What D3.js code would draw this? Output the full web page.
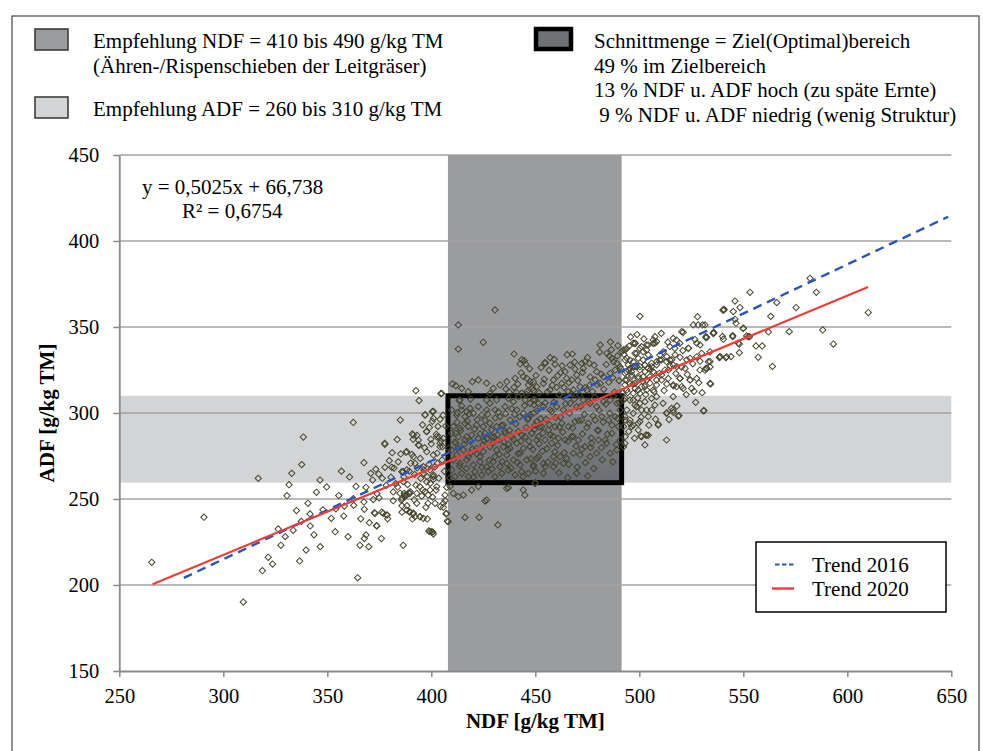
<!DOCTYPE html>
<html>
<head>
<meta charset="utf-8">
<script src="https://cdn.jsdelivr.net/npm/d3@7"></script>
<style>
  html, body { margin: 0; padding: 0; background: #fff; }
  svg { display: block; }
</style>
</head>
<body>
<svg id="chart" width="983" height="751"></svg>
<script>
// NDF / ADF samples, g/kg TM, as [NDF, ADF]
const samples = [
  [265.6,213.2],[290.7,239.4],[309.6,190.1],[316.8,262],[318.8,208.3],[321.6,216.1],[323.7,212.2],[327.7,223.1],
  [329.8,228.1],[330.6,251.9],[331.6,258.3],[332.9,264.9],[336.7,214],[337.5,237],[337.7,270],[338.5,286],
  [339.8,220.3],[340.7,247.5],[341.7,241.3],[341.8,234.3],[343.6,229.2],[346.5,261],[346.6,222.3],[349.7,257],
  [353.8,231],[355.5,252],[357.9,240.1],[360,228.1],[362.5,250.2],[362.7,246.3],[362.5,294.5],[364.6,204.2],
  [365.7,223.1],[367.6,271.1],[367.6,248.3],[367.8,244],[367.8,227],[368.6,256.8],[368.6,229.1],[369.9,222.3],
  [370.9,264.9],[371.8,261],[372.6,242],[373.3,267.3],[373.8,234.3],[373.9,253.1],[374.7,264.5],[376,227],
  [376.2,242.3],[377.7,281.8],[377.7,268.4],[378.8,240.7],[379,238.5],[379.8,272.3],[381,268.4],[381.7,254.1],
  [381.7,249],[382.1,268],[383.8,257],[385.8,265.9],[385.9,250.4],[385.9,242.3],[385.9,246.1],[386.5,223.1],
  [387,253.3],[387.8,277.2],[388.2,252.3],[388.3,246.1],[389.1,253.3],[389.6,242.3],[390.1,270.8],[390.9,238.4],
  [391.3,241.5],[392,264.3],[392.6,258],[393,253.3],[393,247.5],[393.8,281.4],[394.6,239.7],[394.9,262],
  [395.9,255.2],[396.2,264.9],[397.8,259.9],[398.1,238.4],[398.4,247.5],[398.8,231.4],[399.4,255.2],[400.7,230.8],
  [401,263],[401.8,247.5],[402.3,255.2],[402.9,270.8],[404.2,282.4],[405.8,247.5],[406.6,252.3],[407.1,241.3],
  [407.7,237.2],
  [392.6,313],[404.6,311.2],[410.1,316.9],[411.8,315.9],[394.1,307.2],[413.4,307.2],[397,299],[401,301],
  [404.2,296.3],[385.1,295.9],[400.5,295.2],[397.7,289.3],[390.9,287.8],[393.1,287],[402.4,287.6],[403.7,286],
  [391.3,284.7],[404.6,283.9],[377.6,282.4],[394.1,281.2],[400,282],[405.4,280.4],[416.2,294],[414.6,304.1],
  [417,300.8],[412.5,300.2],[411.7,288.2],[411.8,282.4],[417,286.2],
  [386.5,260.1],[396.4,266.9],[398,263],[399.5,259.1],[402.6,257.2],[401,261.4],[394.5,257.2],[397,254.3],
  [398.5,252.3],[387.3,252.3],[385.7,249.4],[389.7,253.3],[373,241.7],[376.9,241.7],[378.5,240.7],[391.3,241.7],
  [389.7,242.6],[394.5,239.7],[373.7,234.5],[399.3,231],[401,229.6],[407.3,241.7],[408.1,236.8],
  [400.5,300.8],[401,296.9],[397,298.8],[391.4,287.2],[393.8,284.3],[397.8,289.1],[402.6,286.2],[405.8,285.3],
  [388.2,277.5],[391.4,274.6],[397.8,277.5],[401,275.6],[404.2,280.4],[386.5,265.9],[388.2,266.9],[392.2,270.7],
  [396.2,268.8],[399.4,266.9],[401,264],[385,253.3],[387.4,251.4],[389.8,254.3],[391.4,241.7],[392.2,239.7],
  [400.2,231],[396.2,238.8],[388.2,243.6],
  [380.6,262.7],[382.9,258.9],[384.1,271.6],[385.3,276.2],[386.8,262.8],[388.6,258.4],[389.4,266.2],[390.7,275.9],
  [391.8,249.6],[393.2,268.1],[394.7,273.6],[395.4,251.7],[396.8,279.8],[397.4,245.2],[398.9,270.2],[399.8,284.7],
  [400.6,251.1],[401.7,268.7],[402.8,276.6],[403.6,262.1],[404.4,245.6],[405.2,272.7],[406.3,266.1],[407.4,256.8],
  [408.3,279.6],[408.9,262.3],[406.9,292.4],[405.7,298.7],[403.2,292.2],[399.1,291.6],[395.8,293.1],[383.6,284.6],
  [381.2,276.9],[378.3,257.9],[376.4,262.1],[374.9,250.6],[372.1,249.7],[370.2,236.2],[366.1,238.5],[363.8,257.3],
  [360.7,262.8],[358.2,245.9],[356.8,266.2],[354.1,244.3],[351.9,238.8],[347.9,243.7],[344.8,253.9],[335.2,243.3],
  [333.6,231.8],[326.4,232.6],
  [430.6,359.9],[413,351.2],[425,341.1],[413,337.2],[439.8,334.3],[444.7,330.4],[445.4,328.4],[442.7,328.5],
  [443.5,331],[419.7,318.2],[435.8,314],[439.8,314.9],[447.5,318.2],[444.3,321.1],[446.7,316.3],[405,311.4],
  [437.5,312.1],[441,311.9],[443.5,311.5],[446,312.5],[449.1,313.1],[418.9,308.1],[413.8,307.6],[426.6,307.6],
  [422.6,319.2],[426.6,317.3],[429.8,314.3],[433,316.3],[436.3,318.2],[440.3,320.2],[445.9,320.2],[428.2,311.4],
  [417.8,312.4],[414.6,314.3],
  [409,257.2],[410.6,253.3],[413,251.4],[415.4,252.3],[419.4,255.2],[422.6,257.2],[426.6,249.4],[436.2,256.2],
  [444.2,255.2],[445,252.3],[449.9,259.1],[416.2,239.3],[423,239.3],[432,234.9],[425.8,248.8],[437.1,256.6],
  [406.6,249.1],[405.8,245.2],
  [409.8,301.7],[412.2,298.8],[414.6,301.7],[416.2,297.9],[418.6,302.7],[420.2,299.8],[422.6,303.7],[424.2,298.8],
  [426.6,301.7],[428.2,305.6],[431.4,307.6],[430.6,301.7],[433,297.9],[435.5,303.7],[437.1,308.5],[439.5,306.6],
  [441.9,309.5],[445.1,307.6],[447.5,305.6],[449.9,307.6],[441.1,301.7],[444.3,299.8],[446.7,296.9],[449.1,299.8],
  [450.7,295],[437.9,295.9],[434.6,293],[431.4,292.1],[428.2,294],[425,292.1],[421.8,293],[417.8,292.1],
  [413.8,291.1],[410.6,292.1],[409.8,288.2],[413,286.2],[416.2,284.3],[419.4,287.2],[422.6,285.3],[425.8,288.2],
  [429,286.2],[432.2,284.3],[435.5,288.2],[438.7,286.2],[441.9,289.2],[445.1,286.2],[448.3,288.2],[450.7,284.3],
  [447.5,280.4],[444.3,279.5],[441.1,282.4],[437.9,279.5],[434.6,280.4],[431.4,278.5],[428.2,280.4],[425,277.5],
  [421.8,279.5],[418.6,276.6],[415.4,278.5],[412.2,275.6],[409.8,278.5],[410.6,272.7],[413.8,270.7],[417,272.7],
  [420.2,269.8],[423.4,271.7],[426.6,268.8],[429.8,271.7],[433,268.8],[436.3,270.7],[439.5,272.7],[442.7,269.8],
  [445.9,272.7],[449.1,269.8],[451.5,274.6],[446.7,264.9],[443.5,265.9],[440.3,264],[437.1,266.9],[433.9,264.9],
  [430.6,263],[427.4,265.9],[424.2,264],[421,265.9],[417.8,263],[414.6,264.9],[411.4,263],[409.8,266.9],
  [442.7,276.6],[436.3,275.6],[430.6,274.6],[423.4,274.6],[417.8,274.6],
  [411.3,283.1],[412.9,279.6],[414.1,289.7],[415.8,281.9],[417.3,295.2],[418.9,283.5],[419.7,279.1],[420.8,290.6],
  [421.9,276.2],[423.5,287.9],[424.8,281.4],[425.9,295.8],[426.7,284.9],[427.8,272.5],[428.9,290.2],[429.6,282.6],
  [430.8,297.1],[431.9,287.4],[432.7,275.9],[433.8,292.8],[434.9,283.2],[435.7,299.6],[436.8,278.8],[437.6,289.9],
  [438.7,302.4],[439.5,284.8],[440.6,293.7],[441.7,276.4],[442.5,297.8],[443.6,287.1],[444.8,304.3],[445.7,291.5],
  [446.9,283.7],[447.6,299.2],[448.8,278.9],[449.7,290.6],[450.9,301.3],[451.8,282.1],[452.6,296.7],[453.7,288.4],
  [454.8,305.9],[455.6,279.3],[456.7,293.2],[457.9,300.8],[458.6,286.6],[459.8,297.4],[460.7,281.2],
  [412.4,294.6],[413.6,269.1],[416.9,267.8],[418.2,299.4],[420.3,262.7],[422.1,296.1],[424.3,268.4],[425.4,283.9],
  [427.1,299.3],[429.2,267.3],[430.1,286.1],[432.3,300.6],[434.1,271.8],[435.3,289.4],[437.2,281.9],[438.4,267.9],
  [440.1,299.1],[441.4,271.3],[443.1,283.6],[444.1,262.9],[446.3,296.2],[447.9,273.4],[449.4,304.7],[450.2,266.2],
  [452.1,291.9],[453.4,277.8],[455.2,296.3],[456.1,271.4],[457.2,287.3],[458.9,306.2],[459.4,277.4],[461.6,291.8],
  [454.7,328.9],[457.1,332.2],[459.5,328.3],[462.2,323.5],[464.3,324],[466.7,327.9],[469.1,325.6],[472.3,328.9],
  [473.9,329.8],[476,328.9],[473.1,326],[469.9,322.1],[467.5,319.2],[465.1,320.2],[462.7,317.2],[460.3,314.9],
  [458.7,319.2],[457.1,313.4],[453.9,317.2],[450.7,315.3],[449.1,318.2],[454.7,329.3],[467.8,334.3],
  [484.4,334.7],[485.6,333.1],[486.8,331.8],[487.6,329.8],[489.2,328.9],[491.6,335.7],[493.2,336.6],[494,331.8],
  [490.8,326.9],[488.4,325],[486,323.1],[482.8,321.1],[479.5,324],[478.8,319.2],[481.2,317.2],[476.3,316.3],
  [474.7,313.4],[471.5,315.3],[468.3,313.4],[465.9,312.4],[463.5,309.5],
  [441.6,316.8],[443.2,323.4],[445.8,310.9],[447.3,325.7],[448.6,314.4],[450.3,321.8],[451.9,311.7],[452.8,326.4],
  [454.3,319.6],[455.9,312.3],[456.6,324.8],[458.2,316.1],[459.1,331.2],[460.8,321.7],[461.5,310.6],[462.9,327.4],
  [463.8,314.8],[465.3,333.9],[466.2,317.7],[467.4,311.2],[468.9,329.6],[470.4,318.9],[471.3,310.4],[472.7,323.6],
  [473.8,314.7],[475.1,332.3],[476.4,320.9],[477.5,312.5],[478.3,327.8],[479.7,316.6],[480.9,335.4],[481.7,322.6],
  [482.9,313.8],[484.1,328.2],[485.3,317.9],[486.6,336.8],[487.2,320.6],[488.1,312.2],[489.5,333.2],[490.3,318.8],
  [491.1,325.7],[491.9,311.5],[489.7,339.2],[492.6,334.1],[495.1,338.9],[486.1,341.3],[481.2,339.6],
  [449.1,307.6],[451.5,305.6],[453.9,303.7],[457.1,301.7],[460.3,303.7],[463.5,301.7],[466.7,305.6],[469.9,303.7],
  [473.1,307.6],[476.3,305.6],[479.5,303.7],[482.8,306.6],[486,307.6],[489.2,305.6],[490.8,301.7],[488.4,297.9],
  [485.2,295.9],[482,297.9],[478.8,295.9],[475.5,294],[472.3,295.9],[469.1,295],[465.9,292.1],[462.7,294],
  [459.5,292.1],[456.3,290.1],[453.1,292.1],[449.9,293],[448.3,288.2],[451.5,286.2],[454.7,284.3],[457.9,282.4],
  [461.1,285.3],[464.3,284.3],[467.5,286.2],[470.7,284.3],[473.9,280.4],[477.1,282.4],[480.4,284.3],[483.6,284.3],
  [486.8,288.2],[490,292.1],[490.8,284.3],[489.2,278.5],[486,276.6],[479.5,276.6],[476.3,274.6],[471.5,275.6],
  [468.3,276.6],[465.1,273.6],[461.9,274.6],[458.7,274.6],[453.9,270.7],[450.7,273.6],[449.1,268.8],[454.7,268.8],
  [458.7,268.8],[463.5,270.7],[469.9,264.9],[453.9,264.9],[449.9,259.5],
  [462.1,297.6],[463.2,288.9],[464.6,305.4],[465.7,283.6],[466.4,299.9],[467.9,291.3],[468.8,308.1],[469.6,280.7],
  [470.9,295.6],[471.8,303.9],[472.7,287.8],[473.6,299.2],[474.8,291.6],[475.7,306.7],[476.9,285.4],[477.8,298.4],
  [478.6,309.1],[479.9,290.1],[480.7,301.6],[481.8,279.8],[482.6,294.7],[483.9,305.2],[484.7,287.7],[485.8,299.8],
  [486.9,292.9],[487.7,310.1],[488.9,281.7],[489.6,296.8],[490.4,306.1],
  [463.9,276.9],[466.1,270.2],[468.2,286.4],[470.2,268.6],[472.4,278.9],[474.1,271.1],[476.6,279.9],[478.1,267.7],
  [480.3,289.7],[482.2,272.8],[484.2,282.4],[487.3,271.6],[461.4,265.3],[465.6,262.4],[475.2,263.4],[459.9,270.9],
  [493.2,330.8],[494.8,325],[493.2,319.2],[494,313.4],[492.4,307.6],[494,301.7],[493.2,295.9],[492.4,292.1],
  [493.2,286.2],[492.4,280.4],
  [500.3,356.2],[498,340.5],[501.1,338.6],[503.5,336.6],[495.5,330.8],[497.1,326.9],[500.3,325],[502.7,327.9],
  [495.5,317.2],[498,314.3],[500.3,311.4],[503.5,319.2],[497.1,299.8],[503.5,301.7],[495.5,294],
  [499.5,290.1],[503.2,287.2],[497.1,307.6],[498.7,303.7],[501.1,301.7],
  [494.4,311.9],[496.9,316.8],[499.2,308.7],[501.6,318.4],[503.1,310.8],[505.4,325.2],[507.1,312.4],[509.6,323.1],
  [511.9,313.1],[514.8,327.3],[517.6,322.9],[520.3,326.7],[523.1,322.4],[525.7,328.6],[528.6,317.6],[494.9,289.2],
  [497.7,285.3],[500.9,297.6],[504.6,292.9],[507.8,296.4],[511.4,305.6],[514.3,296.2],[518.1,304.1],[522.6,310.7],
  [526.3,312.6],[530.2,311.8],[495.8,344.2],[498.9,345.6],[502.2,343.1],[510.6,346.3],[513.7,341.2],[520.9,336.3],
  [526.8,342.7],
  [497.9,340.5],[500.3,337.6],[501.9,335.6],[504.3,339.5],[506.7,340.5],[507.5,344.4],[508.3,341.5],[516.3,343.4],
  [517.9,342.4],[519.5,340.5],[517.1,337.6],[514.7,338.6],[511.5,335.6],[509.9,333.7],[523.6,337.6],[524.4,331.8],
  [527.6,332.7],[530,334.7],[534,335.6],[538.8,332.7],[542,332.7],[533.2,329.8],[529.2,325],[532,325.9],
  [527.6,320.1],[534,317.2],[522,325.9],
  [498.7,334.7],[499.5,331.8],[497.1,329.8],[494.7,327.9],[493.9,324],[496.3,324],[497.9,326.9],[500.3,326.9],
  [502.7,327.9],[504.3,326],[505.9,328.9],[508.3,329.8],[509.9,330.8],[513.1,329.8],[514.7,330.8],[516.3,327.9],
  [512.3,325],[506.7,324],[505.1,321.1],[501.9,321.1],[499.5,320.1],[496.3,321.1],[493.9,319.2],[493.1,316.3],
  [497.9,317.2],[501.1,315.3],[503.5,313.4],[506.7,313.4],[508.3,316.3],[510.7,319.2],[513.9,320.1],[516.3,316.3],
  [517.9,315.3],[519.5,320.1],[521.1,314.3],[524.4,319.2],[525.2,314.3],
  [493.1,308.5],[495.5,307.5],[497.9,304.6],[498.7,303.7],[500.3,305.6],[502.7,306.6],[505.9,308.5],[508.3,309.5],
  [516.3,309.5],[507.5,304.6],[505.9,301.7],[504.3,297.9],[500.3,295],[497.1,293],[495.5,295.9],[493.1,297.9],
  [493.1,282.4],[496.3,292.1],[499.5,294],[501.1,286.2],[503.5,287.2],[509.1,293],[513.1,299.8],[515.5,302.7],
  [518.7,298.2],[513.1,284.3],[516.3,301.7],[530.8,301.3],[502.7,281.4],
  [528,356],[540.7,359.9],[526,351.2],[528.3,351.2],[530.4,351.2],[521.1,346.9],[535.6,346.7],[532,344.4],
  [582.1,378.3],[585.1,370.2],[553.2,370.2],[546,365.1],[548.4,361.3],[545.2,359],[540.7,360.3],[540.2,359.8],
  [566.1,364.2],[575.4,361.3],[563.2,356.2],[610.1,358.4],[546,354.5],[546.5,352.2],[531.6,351.2],[550,349.2],
  [535.9,346.7],[535.6,346.2],[572.1,347.3],[588.2,348.3],[562.1,347.1],[532.1,343.8],[540,344.5],[544.9,345],
  [553,344.4],[548.1,340.1],[556.1,339],[559.1,339],[593.3,340.1],[538.5,332.2],[541.6,332.2],[544.1,332.8],
  [548.1,335.1],[557.2,332.4],[534,326.8],[529.2,330.1],[531.6,324.9],[564,327.1],
  [527.1,306.2],[531.1,301.4],[534.3,316.9],[519.1,298.5],[513.2,300.1],[516.4,300.4],[509.1,293.5],[504.3,287],
  [500.7,286.6],[520.4,347.3],[529.2,339.6],[532.4,344],[527.6,340.6],[523.6,337.6],[519.6,332.4],[522.8,330.9],
  [532.4,326],[534,329.9],[538.8,332.8],[540.4,342.9],[544.9,344.4],[547.6,340.6],[552.4,344.4],
  [550,349.3],[551.6,344.8],
  [492.3,336.7],[493.9,337.6],[497.1,340.6],[497.9,334.7],[503.5,339.6],[506.7,342.5],[507.5,340.6],
  [504.3,333.8],[501.9,330.9],[498.7,327],[495.5,326],[493.1,323.1],[496.3,322.1],[499.5,321.2],[502.7,324.1],
  [505.9,327],[508.3,328],[510.7,330.9],[513.2,332.8],[515.6,330.9],[517.2,333.8],[518,327],[514,325],
  [510.7,322.1],[508.3,319.2],[505.1,317.3],[502.7,315.4],[499.5,313.4],[497.1,311.5],[519.6,320.2],[524.4,319.2],
  [520.4,315.4],[516.4,315.7],[513.2,316.9]
];

// Recommended ranges and their intersection (target area)
const ndfBand = [408, 491.5];
const adfBand = [259.5, 310];

// Linear trends
const trend2020 = { slope: 0.5025, intercept: 66.738, from: 266, to: 610 };
const trend2016 = [[281, 204.1], [648.5, 414.1]];

const xTicks = [250, 300, 350, 400, 450, 500, 550, 600, 650];
const yTicks = [150, 200, 250, 300, 350, 400, 450];

const legendTop = [
  { swatch: "ndf", lines: ["Empfehlung NDF = 410 bis 490 g/kg TM", "(Ähren-/Rispenschieben der Leitgräser)"] },
  { swatch: "adf", lines: ["Empfehlung ADF = 260 bis 310 g/kg TM"] },
  { swatch: "target", lines: ["Schnittmenge = Ziel(Optimal)bereich", "49 % im Zielbereich",
      "13 % NDF u. ADF hoch (zu späte Ernte)", " 9 % NDF u. ADF niedrig (wenig Struktur)"] }
];
const trendLabels = ["Trend 2016", "Trend 2020"];
const equationLines = ["y = 0,5025x + 66,738", "R² = 0,6754"];

const SERIF = "'Liberation Serif', 'Times New Roman', serif";
const FONT = 21;
const svg = d3.select("#chart").attr("font-family", SERIF);

const x = d3.scaleLinear().domain([250, 650]).range([119.3, 951.3]);
const y = d3.scaleLinear().domain([150, 450]).range([671, 155]);

const colNdf = "#9a9c9e", colAdf = "#d3d4d5";

// gradient for the target area
const defs = svg.append("defs");
const grad = defs.append("linearGradient").attr("id", "targetFill")
  .attr("x1", 0).attr("y1", 0).attr("x2", 0).attr("y2", 1);
grad.append("stop").attr("offset", 0).attr("stop-color", "#898c90");
grad.append("stop").attr("offset", 1).attr("stop-color", "#6a6d71");

// outer frame
svg.append("rect").attr("x", 12).attr("y", 16).attr("width", 967).attr("height", 760)
  .attr("fill", "none").attr("stroke", "#555").attr("stroke-width", 1.3);

// ADF band across full width
svg.append("rect")
  .attr("x", x(250)).attr("width", x(650) - x(250))
  .attr("y", y(adfBand[1])).attr("height", y(adfBand[0]) - y(adfBand[1]))
  .attr("fill", colAdf);

// NDF band across full height
svg.append("rect")
  .attr("x", x(ndfBand[0])).attr("width", x(ndfBand[1]) - x(ndfBand[0]))
  .attr("y", y(450)).attr("height", y(150) - y(450))
  .attr("fill", colNdf);

// target area fill
svg.append("rect")
  .attr("x", x(ndfBand[0])).attr("width", x(ndfBand[1]) - x(ndfBand[0]))
  .attr("y", y(adfBand[1])).attr("height", y(adfBand[0]) - y(adfBand[1]))
  .attr("fill", "url(#targetFill)");

// horizontal grid
svg.append("g").selectAll("line").data(yTicks.filter(v => v > 150)).join("line")
  .attr("x1", x(250)).attr("x2", x(650))
  .attr("y1", d => y(d)).attr("y2", d => y(d))
  .attr("stroke", "#a3a3a3").attr("stroke-width", 1.3);

// target outline
svg.append("rect")
  .attr("x", x(ndfBand[0])).attr("width", x(ndfBand[1]) - x(ndfBand[0]))
  .attr("y", y(adfBand[1])).attr("height", y(adfBand[0]) - y(adfBand[1]))
  .attr("fill", "none").attr("stroke", "#000").attr("stroke-width", 5);

// axes
const yAxis = svg.append("g").attr("transform", `translate(${x(250)},0)`)
  .call(d3.axisLeft(y).tickValues(yTicks).tickSize(6).tickPadding(14).tickSizeOuter(0));
const xAxis = svg.append("g").attr("transform", `translate(0,${y(150)})`)
  .call(d3.axisBottom(x).tickValues(xTicks).tickSize(6).tickPadding(11).tickSizeOuter(0));
[xAxis, yAxis].forEach(g => {
  g.attr("font-family", SERIF);
  g.select(".domain").attr("stroke", "#8a8a8a").attr("stroke-width", 1.8);
  g.selectAll(".tick line").attr("stroke", "#8a8a8a").attr("stroke-width", 1.5);
  g.selectAll(".tick text").attr("font-size", 20.5).attr("font-family", SERIF).attr("fill", "#000");
});

// samples
const diamond = d3.symbol().type(d3.symbolSquare).size(20)();
svg.append("g").selectAll("path").data(samples).join("path")
  .attr("d", diamond)
  .attr("transform", d => `translate(${x(d[0])},${y(d[1])}) rotate(45)`)
  .attr("fill", "none").attr("stroke", "#46452d").attr("stroke-width", 1);

// trends
const line = d3.line().x(d => x(d[0])).y(d => y(d[1]));
svg.append("path").datum(trend2016).attr("d", line)
  .attr("fill", "none").attr("stroke", "#2c55b8").attr("stroke-width", 2.4)
  .attr("stroke-dasharray", "9,6");
const t20 = [trend2020.from, trend2020.to].map(v => [v, trend2020.slope * v + trend2020.intercept]);
svg.append("path").datum(t20).attr("d", line)
  .attr("fill", "none").attr("stroke", "#f23a36").attr("stroke-width", 2.2);

// text helper
function label(sel, px, py, s, opts = {}) {
  return sel.append("text").attr("x", px).attr("y", py)
    .attr("font-family", SERIF).attr("font-size", FONT).attr("fill", "#000")
    .attr("font-weight", opts.bold ? "bold" : "normal")
    .attr("text-anchor", opts.anchor || "start")
    .style("white-space", "pre").text(s);
}

// regression equation
label(svg, 142, 194, equationLines[0]);
label(svg, 182, 218, equationLines[1]);

// axis titles
label(svg, x(450), 728, "NDF [g/kg TM]", { bold: true, anchor: "middle" });
label(svg, 0, 0, "ADF [g/kg TM]", { bold: true, anchor: "middle" })
  .attr("transform", `translate(54,${y(300)}) rotate(-90)`);

// top legend
const swatchPos = { ndf: [35, 29, 33, 21], adf: [35, 97, 33, 21], target: [536, 29, 35, 20] };
const textPos = { ndf: [93, 48], adf: [93, 116], target: [594, 48] };
legendTop.forEach(item => {
  const [sx, sy, sw, sh] = swatchPos[item.swatch];
  if (item.swatch === "target") {
    svg.append("rect").attr("x", sx).attr("y", sy).attr("width", sw).attr("height", sh)
      .attr("fill", "#6e7175").attr("stroke", "#000").attr("stroke-width", 4.5);
  } else {
    svg.append("rect").attr("x", sx).attr("y", sy).attr("width", sw).attr("height", sh)
      .attr("fill", item.swatch === "ndf" ? colNdf : colAdf)
      .attr("stroke", "#333").attr("stroke-width", 1.5);
  }
  const [tx, ty] = textPos[item.swatch];
  item.lines.forEach((s, i) => label(svg, tx, ty + i * 24.5, s));
});

// trend legend
const lg = svg.append("g");
lg.append("rect").attr("x", 756).attr("y", 542).attr("width", 190).attr("height", 70)
  .attr("fill", "#fff").attr("stroke", "#000").attr("stroke-width", 1.5);
lg.append("line").attr("x1", 775).attr("x2", 794).attr("y1", 564.5).attr("y2", 564.5)
  .attr("stroke", "#2c55b8").attr("stroke-width", 2).attr("stroke-dasharray", "4.5,2.5");
lg.append("line").attr("x1", 772).attr("x2", 794).attr("y1", 588.5).attr("y2", 588.5)
  .attr("stroke", "#f23a36").attr("stroke-width", 2.4);
trendLabels.forEach((s, i) => label(lg, 812, 571.5 + i * 24.5, s));
</script>
</body>
</html>
